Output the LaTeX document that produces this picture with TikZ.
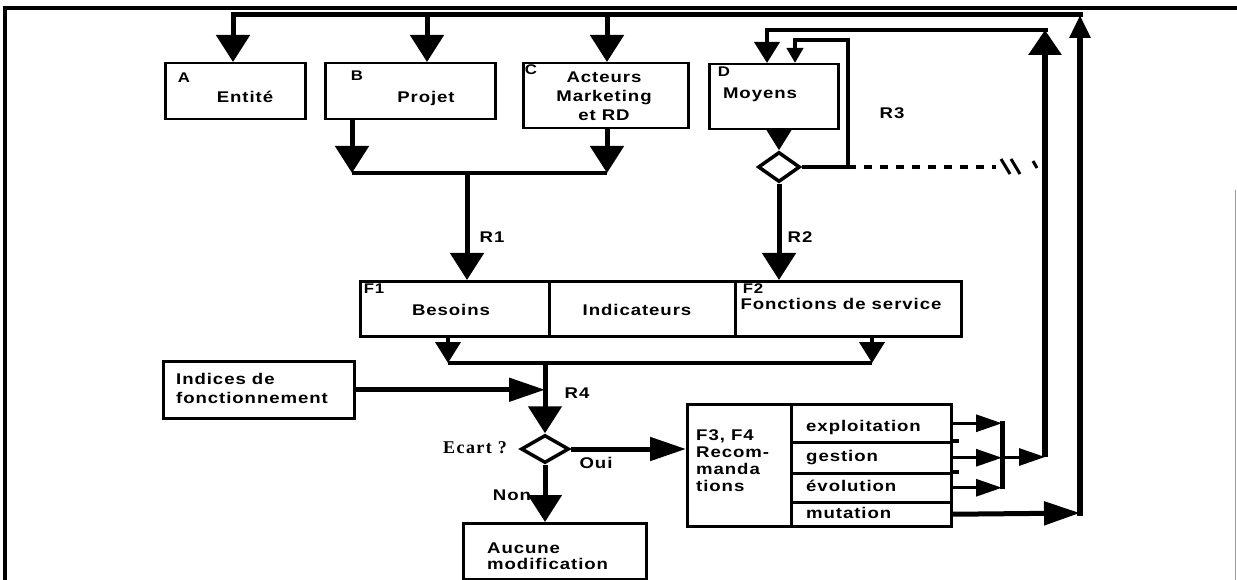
\documentclass[tikz,border=0pt]{standalone}
\usepackage{fontspec}
\newfontfamily\schemafont{Liberation Sans}[FakeStretch=1.2, LetterSpace=6]
\newfontfamily\ecartfont{Liberation Serif}[LetterSpace=8]
\usetikzlibrary{arrows.meta,shapes.geometric}

\begin{document}
\begin{tikzpicture}[
  x=1pt, y=-1pt,
  bloc/.style={rectangle, draw, line width=2.5pt, anchor=north west, inner sep=0pt},
  txt/.style={inner sep=0pt, font=\schemafont\bfseries\fontsize{15.5}{19}\selectfont},
  tag/.style={inner sep=0pt, font=\schemafont\bfseries\fontsize{14}{15}\selectfont},
  losange/.style={diamond, draw, line width=3.5pt, inner sep=0pt, minimum width=42pt, minimum height=30pt},
  wire/.style={line width=3.5pt},
  bus/.style={line width=5pt},
  bigarr/.style={line width=5pt, -{Triangle[length=27pt,width=33pt]}},
  midarr/.style={line width=4pt, -{Triangle[length=21pt,width=25pt]}},
  sidearr/.style={line width=5pt, -{Triangle[length=36pt,width=23pt]}},
  tinyarr/.style={line width=4pt, -{Triangle[length=15pt,width=16pt]}},
  outarr/.style={line width=3pt, -{Triangle[length=26pt,width=17pt]}},
  uparr/.style={line width=6pt, -{Triangle[length=25pt,width=32pt]}},
  toparr/.style={line width=6pt, -{Triangle[length=23pt,width=20pt]}}
]
\useasboundingbox (0,0) rectangle (1237,580);

% cadre
\draw[line width=3.5pt] (5,580) -- (5,8) -- (1237,8);
\draw[line width=1.2pt, black!40] (1235.5,190) -- (1235.5,580);

% premiere ligne
\node[bloc, minimum width=140pt, minimum height=56pt] (entite) at (164,62) {};
\node[bloc, minimum width=170pt, minimum height=56pt] (projet) at (324,62) {};
\node[bloc, minimum width=165pt, minimum height=65pt] (acteurs) at (522,62) {};
\node[bloc, minimum width=129pt, minimum height=65pt] (moyens) at (708,63) {};

\node[tag] (tagA) at (184,78) {A};
\node[txt] (lblEntite) at (245,97) {Entité};
\node[tag] (tagB) at (357,76) {B};
\node[txt] (lblProjet) at (426,98) {Projet};
\node[tag] (tagC) at (531,70) {C};
\node[txt, align=center] (lblActeurs) at (604,96) {Acteurs\\Marketing\\et RD};
\node[tag] (tagD) at (724,72) {D};
\node[txt] (lblMoyens) at (760,95) {Moyens};

\node[losange] (choix) at (779,167) {};

% fonctions
\node[bloc, minimum width=189pt, minimum height=55pt] (besoins) at (359,280) {};
\node[bloc, minimum width=186pt, minimum height=55pt] (indic) at (548,280) {};
\node[bloc, minimum width=226pt, minimum height=55pt] (fonctions) at (734,280) {};

\node[tag] (tagF1) at (374,289) {F1};
\node[txt] (lblBesoins) at (451,310) {Besoins};
\node[txt] (lblIndic) at (637,310) {Indicateurs};
\node[tag] (tagF2) at (753,289) {F2};
\node[txt] (lblFonctions) at (841,304) {Fonctions de service};

% indices et ecart
\node[bloc, minimum width=191pt, minimum height=57pt] (indices) at (162,360) {};
\node[txt, align=left, anchor=west] (lblIndices) at (176,388) {Indices de\\fonctionnement};

\node[losange, minimum width=48pt, minimum height=28pt] (ecart) at (545,449) {};
\node[inner sep=0pt, font=\ecartfont\bfseries\fontsize{18}{20}\selectfont] (lblEcart) at (475,448) {Ecart ?};
\node[txt] (lblOui) at (596,463) {Oui};
\node[txt] (lblNon) at (512,495) {Non};

\node[bloc, minimum width=183pt, minimum height=56pt] (aucune) at (462,522) {};
\node[txt, align=left, anchor=west, font=\schemafont\bfseries\fontsize{15.5}{15.5}\selectfont] (lblAucune) at (487,556) {Aucune\\modification};

% recommandations
\node[bloc, minimum width=104pt, minimum height=122pt] (reco) at (686,403) {};
\node[bloc, minimum width=160pt, minimum height=38pt] (exploit) at (790,403) {};
\node[bloc, minimum width=160pt, minimum height=31pt] (gestion) at (790,441) {};
\node[bloc, minimum width=160pt, minimum height=29pt] (evol) at (790,472) {};
\node[bloc, minimum width=160pt, minimum height=24pt] (mutat) at (790,501) {};
\node[txt, align=left, anchor=west, font=\schemafont\bfseries\fontsize{15.5}{17}\selectfont] (lblReco) at (696,461) {F3, F4\\Recom-\\manda\\tions};
\node[txt, anchor=west] (lblExploit) at (806,427) {exploitation};
\node[txt, anchor=west] (lblGestion) at (806,458) {gestion};
\node[txt, anchor=west] (lblEvol) at (806,486) {évolution};
\node[txt, anchor=west] (lblMutat) at (806,513) {mutation};
\draw[wire] (gestion.north east) -- ++(6,0);
\draw[wire] (evol.north east) -- ++(6,0);

% labels des liaisons
\node[txt] (lblR1) at (492,237) {R1};
\node[txt] (lblR2) at (800,237) {R2};
\node[txt] (lblR3) at (892,113) {R3};
\node[txt] (lblR4) at (577,393) {R4};

% points de jonction
\coordinate (topR) at (1080,15);
\coordinate (tA) at (233,15);
\coordinate (tB) at (427,15);
\coordinate (tC) at (607,15);
\coordinate (m1L) at (352,173);
\coordinate (m1R) at (607,173);
\coordinate (m1C) at (467,173);
\coordinate (m2L) at (448,363);
\coordinate (m2R) at (872,363);
\coordinate (m2C) at (545,363);
\coordinate (r3T) at (848,40);
\coordinate (r3L) at (795,40);
\coordinate (r3D) at (996,167);
\coordinate (mergeT) at (1002,421);
\coordinate (mergeB) at (1002,489);
\coordinate (mergeO) at (1002,457);
\coordinate (loopB) at (1045,457);
\coordinate (loopT) at (1045,30);
\coordinate (loopD) at (767,30);
\coordinate (mutR) at (1080,513);

% retour general
\draw[bigarr] ([xshift=3pt]topR) -- (tA) -- (tA |- entite.north);
\draw[bigarr] (tB) -- (tB |- projet.north);
\draw[bigarr] (tC) -- (tC |- acteurs.north);

\draw[bigarr] (projet.south -| m1L) -- (m1L);
\draw[bigarr] (acteurs.south -| m1R) -- (m1R);
\draw[wire] (m1L) -- (m1R);
\draw[bigarr] (m1C) -- (m1C |- besoins.north);

\draw[midarr] (choix.north |- moyens.south) -- (choix.north);
\draw[bigarr] (choix.south) -- (choix.south |- fonctions.north);
\draw[tinyarr] (choix.east) -| (r3T) -- (r3L) -- (r3L |- moyens.north);
\draw[line width=3.5pt, dash pattern=on 8pt off 8pt] (choix.east -| r3T) -- (r3D);
\draw[line width=3pt] (1001,159) -- (1010,174) (1011,159) -- (1020,174) (1033,161) -- (1037,168);

\draw[midarr] (besoins.south -| m2L) -- (m2L);
\draw[midarr] (fonctions.south -| m2R) -- (m2R);
\draw[wire] (m2L) -- (m2R);
\draw[bigarr] (m2C) -- (ecart.north);
\draw[sidearr] (indices.east) -- (indices.east -| m2C);

\draw[sidearr] (ecart.east) -- (ecart.east -| reco.west);
\draw[bigarr] (ecart.south) -- (ecart.south |- aucune.north);

\draw[outarr] (exploit.east) -- (exploit.east -| mergeT);
\draw[outarr] (gestion.east) -- (gestion.east -| mergeT);
\draw[outarr] (evol.east) -- (evol.east -| mergeT);
\draw[bus] (mergeT) -- (mergeB);
\draw[outarr] (mergeO) -- (loopB);
\draw[uparr] (loopB) -- (loopT);
\draw[midarr] ([xshift=3pt]loopT) -- (loopD) -- (loopD |- moyens.north);

\draw[sidearr] (mutat.east) -- (mutR);
\draw[toparr] ([yshift=-3pt]mutR) -- (topR);
\end{tikzpicture}
\end{document}
